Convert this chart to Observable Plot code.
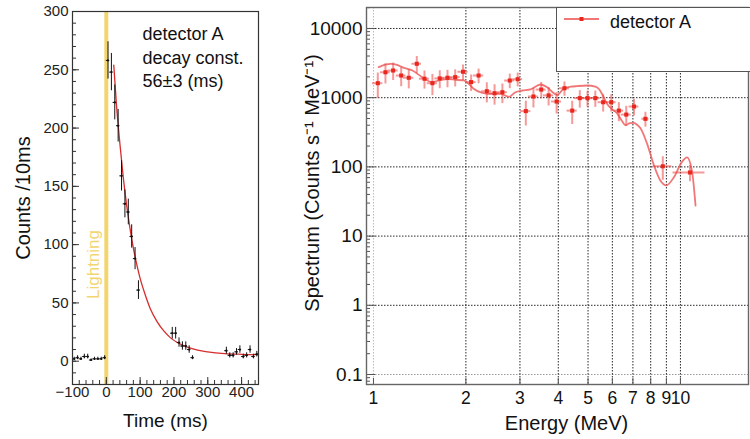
<!DOCTYPE html>
<html><head><meta charset="utf-8">
<script src="https://cdn.jsdelivr.net/npm/d3@7"></script>
<script src="https://cdn.jsdelivr.net/npm/@observablehq/plot@0.6"></script>
<style>
body{margin:0;background:#fff;}
#root{position:relative;width:750px;height:439px;overflow:hidden;font-family:"Liberation Sans",Arial,sans-serif;background:#fff;}
#left{position:absolute;left:0;top:0;}
#right{position:absolute;left:280px;top:0;}
#legend{position:absolute;left:556px;top:7px;width:196px;height:65px;background:#fff;border-left:1.5px solid #555;border-bottom:1.5px solid #555;border-top:1.5px solid #555;box-sizing:border-box;}
#legend span{position:absolute;left:53px;top:4px;font-size:18px;color:#111;}
</style></head>
<body><div id="root"><div id="left"></div><div id="right"></div><div id="legend"></div></div>
<script>
// ---------- Left panel: light curve ----------
const timeBins = [-95,-85,-75,-65,-55,-45,-35,-25,-15,-5,
  5,15,25,35,45,55,65,75,85,95,
  195,205,215,225,235,245,255,
  355,365,375,385,395,405,415,425,435,445];
const counts = [2,3,2,4,4,1,2,2,2,3,
  258,248,222,202,159,135,128,107,88,61,
  24,24,16,13,13,10,3,
  9,5,5,8,10,4,5,10,4,6];
const countErr = [1.4,1.7,1.4,2,2,1,1.4,1.4,1.4,1.7,
  16,16,15,14,13,12,11,10,9.5,8,
  5,5,4,3.6,3.6,3.2,1.7,
  3,2.2,2.2,2.8,3.2,2,2.2,3.2,2,2.4];
const binHalf = 5;
const fitTime = [22,30,40,50,60,70,80,90,100,115,130,150,170,190,210,240,270,300,350,400,450];
const fitCounts = [254,220,187,158,134,114,97,83,71,57,45,34,26,20,16,12,9.5,8,6.5,5.9,5.6];
const lightningTime = [0];
const annotation = ["detector A", "decay const.", "56±3 (ms)"];
const leftYTicks = [0,50,100,150,200,250,300];
const leftYMinor = d3.range(-20, 301, 10);
const leftXTicks = [-100,0,100,200,300,400];
const leftXMinor = d3.range(-100, 451, 20);

// ---------- Right panel: spectrum ----------
const energy = [1.033,1.094,1.159,1.231,1.303,1.384,1.466,1.556,1.644,1.742,1.846,1.958,
  2.08,2.20,2.34,2.48,2.63,2.78,2.95,3.135,3.32,3.52,3.72,3.95,
  4.19,4.44,4.70,4.98,5.28,5.60,5.95,6.30,6.66,7.06,7.69,8.76,10.74];
const spectrum = [1620,2330,2470,2090,1940,3090,1880,1620,1900,1940,1980,2370,
  1680,2090,1240,1160,1200,1770,1850,640,1040,1310,1080,880,
  1370,650,985,985,985,860,860,650,570,745,495,102,83];
const spectrumErr = [650,750,700,650,600,850,550,550,550,550,550,600,
  450,500,400,380,380,420,420,250,330,350,320,300,
  320,240,280,260,260,240,240,200,180,200,120,38,22];
const energyHalf = [0.04,0.04,0.045,0.045,0.05,0.05,0.055,0.06,0.06,0.065,0.07,0.075,
  0.08,0.085,0.09,0.095,0.1,0.105,0.11,0.12,0.125,0.13,0.14,0.15,
  0.16,0.17,0.18,0.19,0.2,0.21,0.22,0.23,0.25,0.26,0.2,0.62,1.28];
const fitEnergy = [1.04,1.09,1.14,1.20,1.24,1.34,1.44,1.55,1.65,1.75,1.85,1.97,2.05,2.12,2.25,2.35,2.59,2.76,2.9,3.05,3.25,3.5,3.68,3.85,3.97,4.16,4.4,4.61,4.97,5.28,5.45,5.55,5.77,6.0,6.22,6.45,6.62,6.85,7.05,7.25,7.41,7.79,8.17,8.6,9.0,9.52,10.1,10.5,10.9,11.2];
const fitSpectrum = [2760,3000,3090,2950,2760,2470,1980,1675,1800,1860,1815,1773,1560,1345,1180,1138,1138,1030,1200,1270,1320,1550,1410,1180,1090,1345,1440,1470,1500,1440,1300,1138,813,680,590,460,400,430,433,400,362,215,110,63.5,54,71,117,137,88.5,27.5];
const rightYTicks = [0.1,1,10,100,1000,10000];
const rightYMinor = [0.08,0.09,0.2,0.3,0.4,0.5,0.6,0.7,0.8,0.9,2,3,4,5,6,7,8,9,20,30,40,50,60,70,80,90,200,300,400,500,600,700,800,900,2000,3000,4000,5000,6000,7000,8000,9000,20000];
const rightXTicks = [1,2,3,4,5,6,7,8,9,10];
const legendLabel = "detector A";

const FONT = "Liberation Sans, Arial, sans-serif";
const yellow = "#f3d56e";
const red = "#e8281e";
const redLight = "rgba(236,70,70,0.55)";
const redFit = "rgba(238,95,95,0.85)";

const leftData = timeBins.map((t, i) => ({t, c: counts[i], e: countErr[i]}));
const fitLeft = fitTime.map((t, i) => ({t, c: fitCounts[i]}));

const leftPlot = Plot.plot({
  width: 270, height: 439,
  marginLeft: 72, marginRight: 12, marginTop: 11, marginBottom: 55,
  style: {fontFamily: FONT, fontSize: "15px", color: "#111", background: "white", overflow: "visible"},
  x: {domain: [-100, 450]},
  y: {domain: [-20, 300]},
  marks: [
    Plot.ruleX(lightningTime, {x: d => d, stroke: yellow, strokeWidth: 4}),
    Plot.text(lightningTime, {x: d => d, text: () => "Lightning", frameAnchor: "bottom", dy: -120, dx: -13, rotate: -90, fill: yellow, fontSize: 17, textAnchor: "middle", lineAnchor: "middle"}),
    Plot.line(fitLeft, {x: "t", y: "c", stroke: "#d62c2c", strokeWidth: 1.3, curve: "monotone-x"}),
    Plot.ruleX(leftData, {x: "t", y1: d => d.c - d.e, y2: d => d.c + d.e, stroke: "#111", strokeWidth: 1}),
    Plot.ruleY(leftData, {y: "c", x1: d => d.t - binHalf, x2: d => d.t + binHalf, stroke: "#111", strokeWidth: 1}),
    Plot.dot(leftData, {x: "t", y: "c", r: 1.1, fill: "#111"}),
    Plot.axisY(leftYMinor, {tickSize: -4, tickFormat: () => "", label: null, stroke: "#333"}),
    Plot.axisY(leftYTicks, {tickSize: -7, tickPadding: 11, label: null, stroke: "#333", fill: "#222"}),
    Plot.axisX(leftXMinor, {tickSize: -4, tickFormat: () => "", label: null, stroke: "#333"}),
    Plot.axisX(leftXTicks, {tickSize: -7, tickPadding: 9, label: null, stroke: "#333", fill: "#222"}),
    Plot.frame({stroke: "#333", strokeWidth: 1.2}),
    Plot.text([annotation.join("\n")], {frameAnchor: "top-left", dx: 70, dy: 12, lineAnchor: "top", textAnchor: "start", lineHeight: 1.3, fontSize: 18, fill: "#111"}),
    Plot.text(["Counts /10ms"], {frameAnchor: "left", dx: -49, rotate: -90, fontSize: 20, fill: "#111", textAnchor: "middle", lineAnchor: "middle"}),
    Plot.text(["Time (ms)"], {frameAnchor: "bottom", dy: 36, fontSize: 19, fill: "#111", textAnchor: "middle", lineAnchor: "middle"})
  ]
});
document.getElementById("left").appendChild(leftPlot);

const rightData = energy.map((E, i) => ({E, v: spectrum[i], s: spectrumErr[i], h: energyHalf[i]}));
const fitRight = fitEnergy.map((E, i) => ({E, v: fitSpectrum[i]}));

const rightPlot = Plot.plot({
  width: 470, height: 439,
  marginLeft: 86, marginRight: 2, marginTop: 7, marginBottom: 55,
  style: {fontFamily: FONT, fontSize: "19px", color: "#111", background: "white", overflow: "visible"},
  x: {type: "log", domain: [0.949, 16.66]},
  y: {type: "log", domain: [0.0717, 20100]},
  marks: [
    Plot.ruleY(rightYTicks.filter(d => d >= 1), {y: d => d, stroke: "#111", strokeWidth: 0.9, strokeDasharray: "1.5,1.5"}),
    Plot.ruleY(rightYTicks.filter(d => d < 1), {y: d => d, stroke: "#999", strokeWidth: 1, strokeDasharray: "1.5,1.5"}),
    Plot.ruleX(rightXTicks.filter(d => d > 1), {x: d => d, stroke: "#111", strokeWidth: 0.9, strokeDasharray: "1.5,1.5"}),
    Plot.ruleX(rightXTicks.filter(d => d === 1), {x: d => d, stroke: "#bbb", strokeWidth: 1, strokeDasharray: "1.5,1.5"}),
    Plot.line(fitRight, {x: "E", y: "v", stroke: redFit, strokeWidth: 1.8, curve: "monotone-x"}),
    Plot.ruleX(rightData, {x: "E", y1: d => d.v - d.s, y2: d => d.v + d.s, stroke: redLight, strokeWidth: 2}),
    Plot.ruleY(rightData, {y: "v", x1: d => d.E - d.h, x2: d => d.E + d.h, stroke: redLight, strokeWidth: 2}),
    Plot.dot(rightData, {x: "E", y: "v", symbol: "square", r: 2.3, fill: red}),
    Plot.axisY(rightYMinor.filter(d => d > 0.0717 && d < 20100), {tickSize: -4, tickFormat: () => "", label: null, stroke: "#555"}),
    Plot.axisY(rightYTicks, {tickSize: -9, tickPadding: 13, tickFormat: d => String(d), label: null, stroke: "#555", fill: "#111"}),
    Plot.axisX(rightXTicks, {tickSize: -6, tickFormat: () => "", label: null, stroke: "#555"}),
    Plot.text(rightXTicks, {x: d => d, text: d => String(d), frameAnchor: "bottom", dy: 14, lineAnchor: "middle", textAnchor: "middle", fontSize: 17.5, fill: "#111"}),
    Plot.frame({stroke: "#666", strokeWidth: 1.4}),
    Plot.text(["Spectrum (Counts s⁻¹ MeV⁻¹)"], {frameAnchor: "left", dx: -54, dy: -13, rotate: -90, fontSize: 20, fill: "#111", textAnchor: "middle", lineAnchor: "middle"}),
    Plot.text(["Energy (MeV)"], {frameAnchor: "bottom", dx: 9, dy: 39, fontSize: 20, fill: "#111", textAnchor: "middle", lineAnchor: "middle"})
  ]
});
document.getElementById("right").appendChild(rightPlot);

// legend (line + marker entry)
const lg = d3.select("#legend");
const lsv = lg.append("svg").attr("width", 50).attr("height", 30).style("position", "absolute").style("left", "0px").style("top", "0px");
lsv.append("line").attr("x1", 7).attr("x2", 42).attr("y1", 11).attr("y2", 11).attr("stroke", redFit).attr("stroke-width", 2);
lsv.append("rect").attr("x", 22.5).attr("y", 9).attr("width", 4).attr("height", 4).attr("fill", red);
lg.append("span").text(legendLabel);
</script>
</body></html>
